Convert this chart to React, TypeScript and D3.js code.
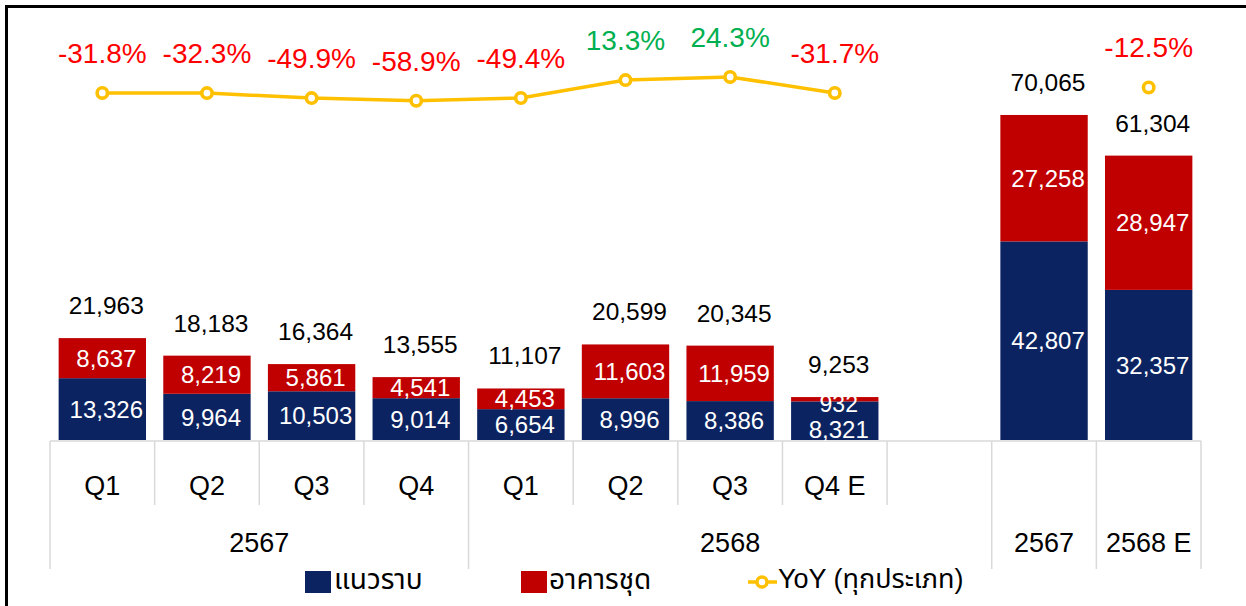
import React from 'react';
import * as d3 from 'd3';

const quarterLabels = ['Q1', 'Q2', 'Q3', 'Q4', 'Q1', 'Q2', 'Q3', 'Q4 E', '', '', ''];
const lowRise = [13326, 9964, 10503, 9014, 6654, 8996, 8386, 8321, null, 42807, 32357];
const condo = [8637, 8219, 5861, 4541, 4453, 11603, 11959, 932, null, 27258, 28947];
const totals = [21963, 18183, 16364, 13555, 11107, 20599, 20345, 9253, null, 70065, 61304];
const yoy = [-31.8, -32.3, -49.9, -58.9, -49.4, 13.3, 24.3, -31.7, null, null, -12.5];
const groupLabels = ['2567', '2568', '2567', '2568 E'];
const groupStart = [0, 4, 9, 10];
const groupEnd = [3, 8, 9, 10];
const legendLabels = ['แนวราบ', 'อาคารชุด', 'YoY (ทุกประเภท)'];

const NAVY = '#0C2361';
const RED = '#C00000';
const YEL = '#FFC000';
const GRID = '#D9D9D9';
const FONT = "'Liberation Sans', Arial, sans-serif";
const THAI = "'Liberation Sans', Tahoma, 'Noto Sans Thai', 'Leelawadee UI', sans-serif";

export default function App() {
  const W = 1246, H = 606;
  const idx = quarterLabels.map((_, i) => String(i));
  const x = d3.scaleBand<string>().domain(idx).range([50, 1201]).paddingInner(0).paddingOuter(0);
  const bw = x.bandwidth() * 0.835;
  const y = d3.scaleLinear().domain([0, 80000]).range([440, 440 - 80000 * 0.004639]);
  const y2 = d3.scaleLinear().domain([-100, 100]).range([112.4, 55.4]);
  const fmt = d3.format(',');
  const cx = (i: number) => (x(String(i)) as number) + x.bandwidth() / 2;
  const base = y(0);

  const line = d3.line<number | null>()
    .defined((d) => d != null)
    .x((_, i) => cx(i))
    .y((d) => y2(d as number));

  const bars: React.ReactNode[] = [];
  const labels: React.ReactNode[] = [];
  lowRise.forEach((v, i) => {
    if (v == null) return;
    const c = condo[i] as number;
    const x0 = cx(i) - bw / 2;
    const yNavy = y(v);
    const yTop = y(v + c);
    bars.push(<rect key={'n' + i} x={x0} y={yNavy} width={bw} height={base - yNavy} fill={NAVY} />);
    bars.push(<rect key={'r' + i} x={x0} y={yTop} width={bw} height={yNavy - yTop} fill={RED} />);
    const tight = yNavy - yTop < 15;
    const nMid = (yNavy + base) / 2 + (tight ? 8.5 : 0);
    const rMid = (yTop + yNavy) / 2 + (tight ? 4 : 0);
    labels.push(
      <text key={'ln' + i} x={cx(i) + 4} y={nMid} dy="0.36em" textAnchor="middle" fill="#fff" fontSize={24} fontFamily={FONT}>{fmt(v)}</text>
    );
    labels.push(
      <text key={'lr' + i} x={cx(i) + 4} y={rMid} dy="0.36em" textAnchor="middle" fill="#fff" fontSize={tight ? 23 : 24} fontFamily={FONT}>{fmt(c)}</text>
    );
    const t = totals[i] as number;
    labels.push(
      <text key={'lt' + i} x={cx(i) + 4} y={y(t) - 24} textAnchor="middle" fill="#000" fontSize={24.5} fontFamily={FONT}>{fmt(t)}</text>
    );
  });

  const yoyMarks: React.ReactNode[] = [];
  yoy.forEach((v, i) => {
    if (v == null) return;
    yoyMarks.push(<circle key={'c' + i} cx={cx(i)} cy={y2(v)} r={5.2} fill="#fff" stroke={YEL} strokeWidth={3.6} />);
    yoyMarks.push(
      <text key={'t' + i} x={cx(i)} y={y2(v) - 30} textAnchor="middle" fill={v >= 0 ? '#00B050' : '#FF0000'} fontSize={28} fontFamily={FONT}>
        {v.toFixed(1) + '%'}
      </text>
    );
  });

  const left = x('0') as number;
  const right = (x(String(idx.length - 1)) as number) + x.bandwidth();
  const gridLines: React.ReactNode[] = [];
  gridLines.push(<line key="h" x1={left} x2={right} y1={base + 1} y2={base + 1} stroke={GRID} strokeWidth={1.5} />);
  const groupEdges = new Set<number>();
  groupStart.forEach((s) => groupEdges.add(s));
  groupEdges.add(idx.length);
  for (let k = 0; k <= idx.length; k++) {
    const xx = k < idx.length ? (x(String(k)) as number) : right;
    const long = groupEdges.has(k);
    gridLines.push(
      <line key={'v' + k} x1={xx} x2={xx} y1={base + 1} y2={long ? 569 : 505} stroke={GRID} strokeWidth={1.5} />
    );
  }

  const axisText: React.ReactNode[] = quarterLabels.map((q, i) =>
    q ? (
      <text key={'q' + i} x={cx(i)} y={495} textAnchor="middle" fontSize={27} fontFamily={FONT} fill="#000">{q}</text>
    ) : null
  );
  groupLabels.forEach((g, k) => {
    const gx = ((x(String(groupStart[k])) as number) + (x(String(groupEnd[k])) as number) + x.bandwidth()) / 2;
    axisText.push(
      <text key={'g' + k} x={gx} y={552} textAnchor="middle" fontSize={27} fontFamily={FONT} fill="#000">{g}</text>
    );
  });

  return (
    <svg width={W} height={H} style={{ position: 'fixed', left: 0, top: 0, background: '#fff' }}>
      <rect x={0} y={0} width={W} height={H} fill="#fff" />
      <rect x={6.5} y={6.5} width={W + 100} height={H + 100} fill="#fff" stroke="#000" strokeWidth={3} />
      {gridLines}
      {bars}
      {labels}
      <path d={line(yoy) || ''} fill="none" stroke={YEL} strokeWidth={3.5} />
      {yoyMarks}
      {axisText}
      <g>
        <rect x={305} y={571} width={26} height={22} fill={NAVY} />
        <text x={334} y={589} fontSize={28} fontFamily={THAI} fill="#000">{legendLabels[0]}</text>
        <rect x={521} y={571} width={26} height={22} fill={RED} />
        <text x={549} y={589} fontSize={28} fontFamily={THAI} fill="#000">{legendLabels[1]}</text>
        <line x1={748} x2={777} y1={582} y2={582} stroke={YEL} strokeWidth={3.5} />
        <circle cx={762} cy={582} r={5} fill="#fff" stroke={YEL} strokeWidth={3.5} />
        <text x={778} y={588} fontSize={27} fontFamily={THAI} fill="#000">{legendLabels[2]}</text>
      </g>
    </svg>
  );
}
